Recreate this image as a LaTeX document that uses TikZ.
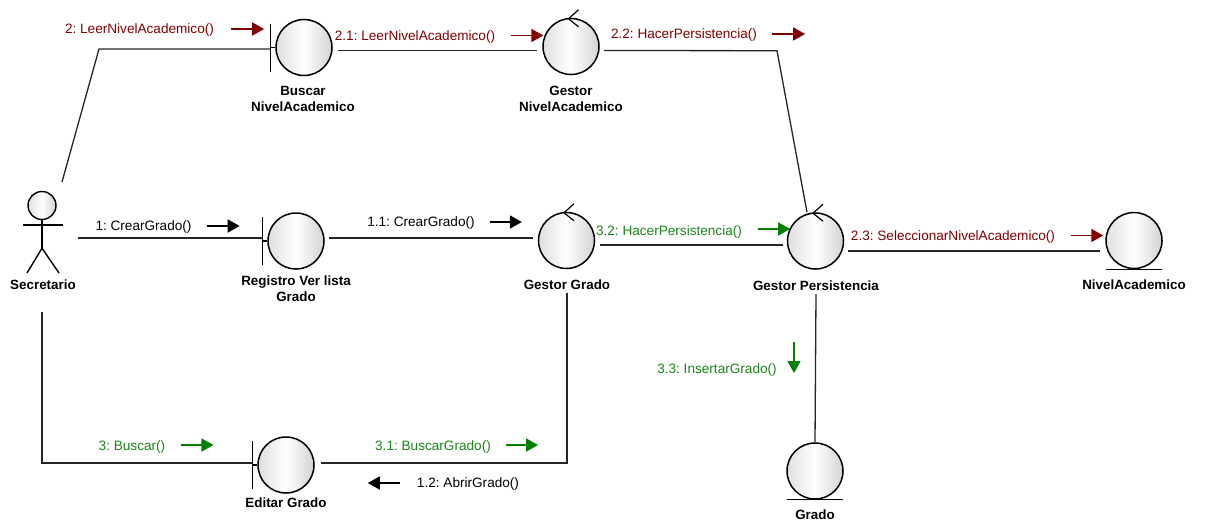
\documentclass[tikz,border=0pt]{standalone}
\usepackage{fontspec}
\setmainfont{Liberation Sans}
\usetikzlibrary{arrows.meta,calc}
\definecolor{dred}{RGB}{128,0,0}
\definecolor{dgreen}{RGB}{0,128,0}
\definecolor{tgreen}{RGB}{25,135,25}
\frenchspacing
\begin{document}
\begin{tikzpicture}[x=1pt,y=-1pt,
  conn/.style={line width=1.3pt, draw=black!85},
  obj/.style={circle, draw=black, line width=1.5pt, minimum size=56pt, inner sep=0pt,
    left color=gray!25, right color=gray!35, middle color=white},
  sym/.style={line width=1.4pt, draw=black},
  lbl/.style={font=\fontsize{13.4}{16}\selectfont\bfseries, align=center, inner sep=0pt},
  msg/.style={font=\fontsize{13.6}{15}\selectfont, inner sep=0pt},
  arr/.style={line width=1.7pt, -{Triangle[length=12pt,width=13pt]}},
]
\useasboundingbox (0,0) rectangle (1205,522);
\fill[white] (0,0) rectangle (1205,522);

% ---------- objects ----------
\node[obj] (bna) at (304,47.5) {};
\node[obj] (gna) at (571,46.5) {};
\node[obj] (reg) at (296,241) {};
\node[obj] (gg)  at (566.5,240.5) {};
\node[obj] (gp)  at (815.5,241) {};
\node[obj] (na)  at (1134,240.5) {};
\node[obj] (ed)  at (286,465) {};
\node[obj] (gr)  at (815,471) {};

% boundary bars
\foreach \n in {bna,reg,ed}{
  \draw[sym] ($(\n.west)+(-5,-24)$) -- ++(0,48);
  \draw[sym] ($(\n.west)+(-5,0)$) -- (\n.west);
}
% control arrows
\foreach \n in {gna,gg,gp}{
  \draw[sym,line width=1.2pt] ($(\n.north)+(7.5,-8)$) -- ($(\n.north)+(-2.5,1)$) -- ($(\n.north)+(7.5,9)$);
}
% entity underlines
\foreach \n in {na,gr}{
  \draw[sym] ($(\n.south)+(-28,0)$) -- ($(\n.south)+(28,0)$);
}

% actor
\node[circle, draw=black, line width=1.4pt, minimum size=28pt, inner sep=0pt,
  left color=gray!25, right color=gray!35, middle color=white] (sec) at (42,205.5) {};
\draw[sym] (sec.south) -- ++(0,28) coordinate (hip);
\draw[sym] (23,225) -- (63,225);
\draw[sym] (27,273) -- (hip) -- (59,273);

% ---------- labels ----------
\node[lbl] (secL) at (43,285) {Secretario};
\node[lbl] (bnaL) at (303,99) {Buscar\\NivelAcademico};
\node[lbl] (gnaL) at (571,99) {Gestor\\NivelAcademico};
\node[lbl] (regL) at (296,288.5) {Registro Ver lista\\Grado};
\node[lbl] (ggL)  at (567,285) {Gestor Grado};
\node[lbl] (gpL)  at (816,286) {Gestor Persistencia};
\node[lbl] (naL)  at (1134,285) {NivelAcademico};
\node[lbl] (edL)  at (286,503) {Editar Grado};
\node[lbl] (grL)  at (815,515) {Grado};

% ---------- connectors ----------
\coordinate (secTop) at (62,182);
\coordinate (secBot) at (42,312);
\draw[conn] (secTop) -- (99,49) -- ([shift={(-5,1.5)}]bna.west);
\draw[conn] ([shift={(5,3)}]bna.east) -- ([shift={(-5,4)}]gna.west);
\draw[conn] ([shift={(4,4)}]gna.east) -- (777,50.7) -- ([shift={(-8.5,0)}]gp.north);
\draw[conn] (78,238) -- ([shift={(-5,-3)}]reg.west);
\draw[conn] ([shift={(4,-3)}]reg.east) -- ([shift={(-5,-2.5)}]gg.west);
\draw[conn] ([shift={(5,4.5)}]gg.east) -- ([shift={(-4,4)}]gp.west);
\draw[conn] ([shift={(4,10)}]gp.east) -- ([shift={(-5,10.5)}]na.west);
\draw[conn] ([shift={(0,3)}]gpL.south) -- (gr.north);
\draw[conn] ([shift={(0,3)}]ggL.south) -- (567,463) -- ([shift={(6,-2)}]ed.east);
\draw[conn] (secBot) -- (42,463) -- ([shift={(-5,-2)}]ed.west);

% ---------- messages ----------
\node[msg, text=dred] (m2) at (139.5,30) {2: LeerNivelAcademico()};
\draw[arr, dred] ([shift={(17,-1)}]m2.east) -- ++(33,0);
\node[msg, text=dred] (m21) at (415,37) {2.1: LeerNivelAcademico()};
\draw[arr, dred] ([shift={(16,-1.5)}]m21.east) -- ++(32,0);
\node[msg, text=dred] (m22) at (684,35) {2.2: HacerPersistencia()};
\draw[arr, dred] ([shift={(15,-1)}]m22.east) -- ++(33,0);
\node[msg, text=dred] (m23) at (953,237) {2.3: SeleccionarNivelAcademico()};
\draw[arr, dred] ([shift={(16,-1.5)}]m23.east) -- ++(32,0);

\node[msg] (m1) at (143.5,227) {1: CrearGrado()};
\draw[arr] ([shift={(15,-1)}]m1.east) -- ++(33,0);
\node[msg] (m11) at (421,223) {1.1: CrearGrado()};
\draw[arr] ([shift={(15,-1)}]m11.east) -- ++(32,0);
\node[msg] (m12) at (468,484) {1.2: AbrirGrado()};
\draw[arr] ([shift={(-17,-1)}]m12.west) -- ++(-32,0);

\node[msg, text=tgreen] (m3) at (132,447) {3: Buscar()};
\draw[arr, dgreen] ([shift={(16,-2)}]m3.east) -- ++(32,0);
\node[msg, text=tgreen] (m31) at (433,447) {3.1: BuscarGrado()};
\draw[arr, dgreen] ([shift={(15,-2)}]m31.east) -- ++(32,0);
\node[msg, text=tgreen] (m32) at (669,231.5) {3.2: HacerPersistencia()};
\draw[arr, dgreen] ([shift={(16,-2.5)}]m32.east) -- ++(32,0);
\node[msg, text=tgreen] (m33) at (717,370) {3.3: InsertarGrado()};
\draw[arr, dgreen] (794,342) -- (794,373);
\end{tikzpicture}
\end{document}
